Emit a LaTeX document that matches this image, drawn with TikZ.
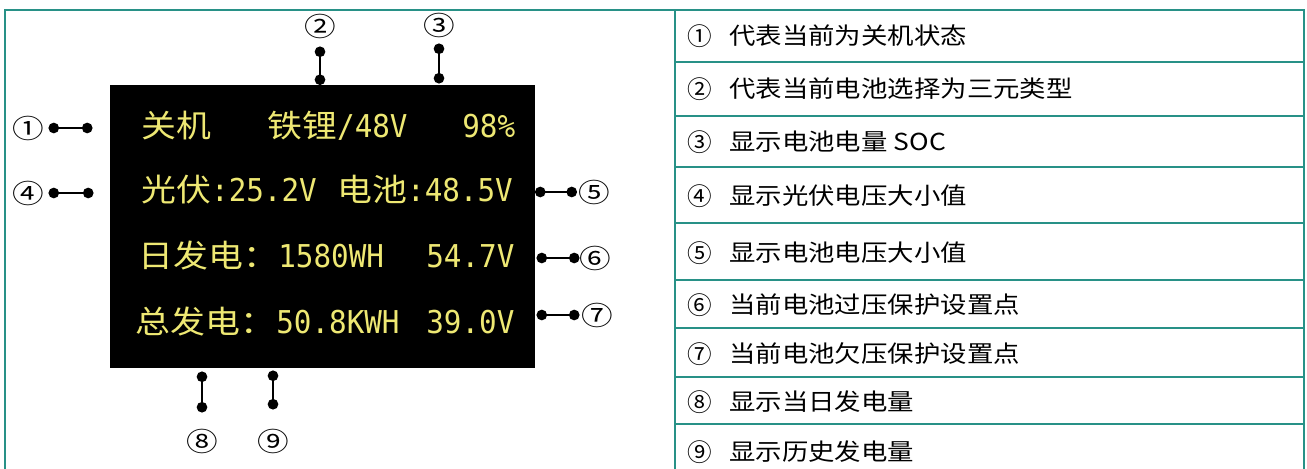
\documentclass[tikz,border=0pt]{standalone}
\usepackage{fontspec}
\setmainfont{Noto Sans CJK SC}
\newfontfamily\tabfont[FakeStretch=1.13]{Noto Sans CJK SC}
\newfontfamily\lcdfont[FakeStretch=1.11]{Noto Sans CJK SC}
\newfontfamily\lcdnum[FakeStretch=0.93]{DejaVu Sans Mono}
\newfontfamily\circfont[FakeStretch=1.2]{Noto Sans CJK SC}
\newfontfamily\tabcirc{Noto Sans CJK SC}
\usetikzlibrary{arrows.meta}
\definecolor{frameteal}{RGB}{40,145,135}
\definecolor{lcdyellow}{RGB}{238,232,115}
\tikzset{
  frame line/.style={draw=frameteal, line width=1.4pt},
  pin line/.style={{Circle[length=6pt]}-{Circle[length=6pt]}, line width=1.1pt},
  callout/.style={inner sep=0pt, font=\circfont\fontsize{15}{15}\selectfont},
  lcd text/.style={text=lcdyellow, anchor=base west, inner sep=0pt, font=\lcdfont\fontsize{17.9}{18}\selectfont},
  row num/.style={inner sep=0pt, font=\tabcirc\fontsize{14}{14}\selectfont},
  row text/.style={anchor=west, inner sep=0pt, font=\tabfont\fontsize{13.3}{14}\selectfont}
}
\newcommand{\dnum}[1]{{\lcdnum #1}}
\begin{document}
\begin{tikzpicture}[x=0.02cm, y=-0.02cm]
\useasboundingbox (0,0) rectangle (1307,469);
\draw[frame line] (5,469) -- (5,10) -- (675,10);
\draw[frame line] (675,469) -- (675,10) -- (1304,10) -- (1304,469);
\foreach \yy in {62,116,167,223,280,328,377,424}
  \draw[frame line] (675,\yy) -- (1304,\yy);

\node[fill=black, minimum width=425*0.02cm, minimum height=283*0.02cm, inner sep=0pt] (lcd) at (322.5,226.5) {};

\node[lcd text] (off) at (141,138) {关机};
\node[lcd text] (batt type) at (267,138) {铁锂\dnum{/48V}};
\node[lcd text] (soc) at (462,138) {\dnum{98\%}};
\node[lcd text] (pv) at (141,202) {光伏\dnum{:25.2V}};
\node[lcd text] (batt v) at (337,202) {电池\dnum{:48.5V}};
\node[lcd text] (day) at (138,268) {日发电：};
\node[lcd text] (day val) at (278,268) {\dnum{1580WH}};
\node[lcd text] (over v) at (426,268) {\dnum{54.7V}};
\node[lcd text] (total) at (135,333) {总发电：};
\node[lcd text] (total val) at (276,333) {\dnum{50.8KWH}};
\node[lcd text] (under v) at (426,333) {\dnum{39.0V}};

\coordinate (p1a) at (48.5,128);  \coordinate (p1b) at (92.5,128);
\coordinate (p4a) at (48.5,193);  \coordinate (p4b) at (93.5,193);
\coordinate (p2a) at (320,46.5);  \coordinate (p2b) at (320,85);
\coordinate (p3a) at (439,43.5);  \coordinate (p3b) at (439,83.5);
\coordinate (p5a) at (535,192);   \coordinate (p5b) at (577,192);
\coordinate (p6a) at (536.5,258); \coordinate (p6b) at (579.5,258);
\coordinate (p7a) at (536.5,315); \coordinate (p7b) at (579.5,315);
\coordinate (p8a) at (202,371.5); \coordinate (p8b) at (202,412.5);
\coordinate (p9a) at (273,370.5); \coordinate (p9b) at (273,409.5);
\foreach \i in {1,...,9}
  \draw[pin line] (p\i a) -- (p\i b);

\node[callout] (c1) at (28,128) {①};
\node[callout] (c4) at (28,193) {④};
\node[callout] (c2) at (320,26) {②};
\node[callout] (c3) at (439,25) {③};
\node[callout] (c5) at (594,192) {⑤};
\node[callout] (c6) at (595,258) {⑥};
\node[callout] (c7) at (597,315) {⑦};
\node[callout] (c8) at (202,441) {⑧};
\node[callout] (c9) at (273,441) {⑨};

\foreach \n/\yy/\txt in {①/36/代表当前为关机状态, ②/89/代表当前电池选择为三元类型,
    ③/142/显示电池电量 SOC, ④/196/显示光伏电压大小值, ⑤/253/显示电池电压大小值,
    ⑥/305/当前电池过压保护设置点, ⑦/354/当前电池欠压保护设置点,
    ⑧/402/显示当日发电量, ⑨/452/显示历史发电量} {
  \node[row num] (rn\yy) at (700,\yy) {\n};
  \node[row text] (rt\yy) at (729,\yy) {\txt};
}
\end{tikzpicture}
\end{document}
